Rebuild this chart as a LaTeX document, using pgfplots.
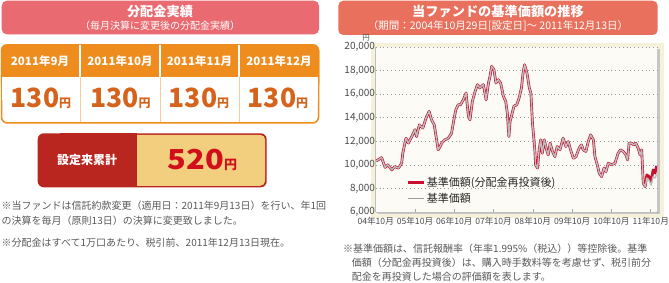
\documentclass[border=0pt]{standalone}
\usepackage{fontspec}
\setmainfont{Noto Sans CJK JP}
\usepackage{pgfplots}
\usepackage{pgfplotstable}
\pgfplotsset{compat=1.18}
\definecolor{hdrpink}{HTML}{E96A70}
\definecolor{hdrcoral}{HTML}{E8705C}
\definecolor{monthor}{HTML}{EE8C1E}
\definecolor{valor}{HTML}{D5631C}
\definecolor{cumred}{HTML}{B9261F}
\definecolor{cumyel}{HTML}{F2CF7F}
\definecolor{numred}{HTML}{D10F1A}
\definecolor{plotbg}{HTML}{FCFBF6}
\definecolor{beige}{HTML}{F6F1DB}
\definecolor{notegray}{HTML}{595959}
\definecolor{redline}{HTML}{C8102E}
\definecolor{grayline}{HTML}{BDBDBD}
\definecolor{ticktext}{HTML}{4A4A4A}

\pgfplotstableread{
t v
2004.84 10340
2004.98 10630
2005.07 9800
2005.14 10020
2005.24 9600
2005.32 9870
2005.41 9740
2005.49 10160
2005.52 11000
2005.60 12280
2005.66 11860
2005.75 12420
2005.83 13000
2005.87 12420
2005.94 13410
2006.03 13130
2006.11 13980
2006.19 14550
2006.25 13840
2006.32 13410
2006.38 12140
2006.42 11290
2006.47 11570
2006.51 11860
2006.59 12140
2006.68 12280
2006.76 12700
2006.82 13840
2006.87 14690
2006.93 15110
2006.99 15110
2007.06 15530
2007.13 16100
2007.19 14120
2007.23 13840
2007.29 15390
2007.36 16240
2007.42 16810
2007.48 16530
2007.57 16810
2007.64 15530
2007.70 16950
2007.74 17520
2007.78 18360
2007.84 18080
2007.89 16950
2007.95 17230
2008.01 16950
2008.08 15820
2008.14 15390
2008.18 14400
2008.22 12420
2008.25 13690
2008.29 14200
2008.35 15000
2008.42 15100
2008.48 15680
2008.54 16530
2008.58 17800
2008.62 18500
2008.68 17800
2008.74 16530
2008.78 16100
2008.82 13560
2008.85 12420
2008.88 11290
2008.90 10020
2008.95 9740
2008.99 11290
2009.03 12140
2009.07 11000
2009.12 12140
2009.18 11290
2009.22 10860
2009.27 11860
2009.33 11150
2009.39 10720
2009.45 11570
2009.52 11290
2009.60 12280
2009.67 11570
2009.73 11990
2009.79 11290
2009.86 10580
2009.93 10720
2009.99 11290
2010.03 11570
2010.07 11710
2010.11 11290
2010.18 11150
2010.24 11990
2010.30 12560
2010.37 12140
2010.41 10720
2010.47 10020
2010.52 9310
2010.58 9020
2010.64 9740
2010.69 9450
2010.75 10160
2010.83 10020
2010.92 10160
2011.00 11000
2011.06 11290
2011.13 11150
2011.20 10860
2011.24 10440
2011.28 11860
2011.34 11860
2011.40 11710
2011.45 11860
2011.51 11430
2011.56 10860
2011.60 11290
2011.64 8460
2011.69 8170
2011.73 9170
2011.79 9020
2011.84 8600
2011.89 9600
2011.94 9310
2011.98 9930
}\redtbl

\pgfplotstableread{
t v
2004.84 10340
2004.98 10630
2005.07 9800
2005.14 10020
2005.24 9600
2005.32 9870
2005.41 9740
2005.49 10160
2005.52 11000
2005.60 12280
2005.66 11860
2005.75 12420
2005.83 13000
2005.87 12420
2005.94 13410
2006.03 13130
2006.11 13980
2006.19 14550
2006.25 13840
2006.32 13410
2006.38 12140
2006.42 11290
2006.47 11570
2006.51 11860
2006.59 12140
2006.68 12280
2006.76 12700
2006.82 13840
2006.87 14690
2006.93 15110
2006.99 15110
2007.06 15530
2007.13 16100
2007.19 14120
2007.23 13840
2007.29 15390
2007.36 16240
2007.42 16810
2007.48 16530
2007.57 16810
2007.64 15530
2007.70 16950
2007.74 17520
2007.78 18360
2007.84 18080
2007.89 16950
2007.95 17230
2008.01 16950
2008.08 15820
2008.14 15390
2008.18 14400
2008.22 12420
2008.25 13690
2008.29 14200
2008.35 15000
2008.42 15100
2008.48 15680
2008.54 16530
2008.58 17800
2008.62 18500
2008.68 17800
2008.74 16530
2008.78 16100
2008.82 13560
2008.85 12420
2008.88 11290
2008.90 10020
2008.95 9740
2008.99 11290
2009.03 12140
2009.07 11000
2009.12 12140
2009.18 11290
2009.22 10860
2009.27 11860
2009.33 11150
2009.39 10720
2009.45 11570
2009.52 11290
2009.60 12280
2009.67 11570
2009.73 11990
2009.79 11290
2009.86 10580
2009.93 10720
2009.99 11290
2010.03 11570
2010.07 11710
2010.11 11290
2010.18 11150
2010.24 11990
2010.30 12560
2010.37 12140
2010.41 10720
2010.47 10020
2010.52 9310
2010.58 9020
2010.64 9740
2010.69 9450
2010.75 10160
2010.83 10020
2010.92 10160
2011.00 11000
2011.06 11290
2011.13 11150
2011.20 10860
2011.24 10440
2011.28 11860
2011.34 11860
2011.40 11710
2011.45 11860
2011.51 11430
2011.56 10860
2011.60 11290
2011.64 8460
2011.69 8170
2011.73 8900
2011.79 8700
2011.84 8300
2011.89 9000
2011.94 8900
2011.98 9200
}\graytbl

\begin{document}
\begin{tikzpicture}
\useasboundingbox (0pt,0pt) rectangle (669pt,-283pt);

% ---------- left panel ----------
\fill[hdrpink, rounded corners=5pt] (1.7pt,-0.7pt) rectangle (319pt,-34.3pt);
\node[text=white, font=\fontsize{13.2}{14}\selectfont\bfseries] at (160pt,-12pt) {分配金実績};
\node[text=white, font=\fontsize{10}{11}\selectfont] at (160pt,-26.2pt) {（毎月決算に変更後の分配金実績）};

\filldraw[fill=white, draw=monthor, line width=1.5pt, rounded corners=6pt] (1.5pt,-45pt) rectangle (318.5pt,-123pt);
\fill[monthor, rounded corners=6pt] (0.75pt,-44.25pt) rectangle (319.25pt,-90pt);
\fill[white] (2.25pt,-77pt) rectangle (317.75pt,-100pt);
\foreach \xx in {80,160,239}{
  \draw[white, line width=1.2pt] (\xx pt,-45pt) -- (\xx pt,-77pt);
  \draw[monthor!45, line width=0.8pt] (\xx pt,-77pt) -- (\xx pt,-122pt);
}
\foreach \xx/\mm in {40/2011年9月,120/2011年10月,199.5/2011年11月,279/2011年12月}{
  \node[text=white, font=\fontsize{11.5}{12}\selectfont\bfseries] at (\xx pt,-61.5pt) {\mm};
}
\foreach \xx in {41,120.5,199,278}{
  \node[anchor=base, text=valor, inner sep=0pt] at (\xx pt,-107.5pt) {{\fontsize{26.5}{28}\selectfont\bfseries 130}{\fontsize{12}{13}\selectfont\bfseries 円}};
}

\fill[cumred, rounded corners=6pt] (37.7pt,-133.3pt) rectangle (266.7pt,-187.3pt);
\fill[cumyel, rounded corners=5pt] (120pt,-134.8pt) rectangle (265.2pt,-185.8pt);
\fill[cumred] (60pt,-133.3pt) rectangle (137pt,-187.3pt);
\node[text=white, font=\fontsize{12}{13}\selectfont\bfseries] at (87pt,-160pt) {設定来累計};
\node[anchor=base, text=numred, inner sep=0pt] at (202.5pt,-170pt) {\scalebox{1.12}[1]{\fontsize{27.5}{29}\selectfont\bfseries 520}{\fontsize{13}{14}\selectfont\bfseries 円}};

\begin{scope}[every node/.style={anchor=base west, inner sep=0pt, text=notegray, font=\fontsize{10}{11}\selectfont}]
\node at (1.5pt,-210pt) {※当ファンドは信託約款変更（適用日：2011年9月13日）を行い、年1回};
\node at (1.5pt,-225pt) {の決算を毎月（原則13日）の決算に変更致しました。};
\node at (1.5pt,-246pt) {※分配金はすべて1万口あたり、税引前、2011年12月13日現在。};
\end{scope}

% ---------- right panel ----------
\fill[hdrcoral, rounded corners=5pt] (338.3pt,-0.7pt) rectangle (657.7pt,-35pt);
\node[text=white, font=\fontsize{13.2}{14}\selectfont\bfseries] at (498pt,-12pt) {当ファンドの基準価額の推移};
\node[text=white, font=\fontsize{10.5}{11}\selectfont] at (498pt,-25.8pt) {（期間：2004年10月29日[設定日]～ 2011年12月13日）};

\fill[beige] (371pt,-43pt) rectangle (664pt,-218pt);
\fill[gray!45] (377.5pt,-49pt) rectangle (659.5pt,-214.5pt);
\node[text=ticktext, font=\fontsize{7.5}{8}\selectfont, inner sep=0.5pt] at (366pt,-37.5pt) {円};

\begin{axis}[
  at={(375.7pt,-212.3pt)}, anchor=south west,
  width=281.3pt, height=165.3pt, scale only axis,
  xmin=2004.83, xmax=2011.99, ymin=6000, ymax=20000,
  ytick={6000,8000,10000,12000,14000,16000,18000,20000},
  xtick={2004.83,2005.83,2006.83,2007.83,2008.83,2009.83,2010.83,2011.83},
  xticklabels={04年10月,05年10月,06年10月,07年10月,08年10月,09年10月,10年10月,11年10月},
  scaled y ticks=false,
  /pgf/number format/.cd, 1000 sep={,}, assume math mode=true, /pgfplots/.cd,
  axis background/.style={fill=plotbg},
  axis x line*=bottom, axis y line*=left,
  axis line style={draw=gray!50, line width=0.6pt},
  ymajorgrids, grid style={draw=gray!80, line width=0.7pt, dash pattern=on 0.8pt off 3pt},
  ytick style={draw=none},
  xtick style={draw=gray!70, line width=0.6pt},
  tick align=inside, major tick length=3pt,
  x tick label style={font=\fontsize{8.6}{10}\selectfont, text=ticktext, yshift=-1pt},
  y tick label style={font=\fontsize{10}{11}\selectfont, text=ticktext, xshift=1pt, inner sep=1.5pt},
  legend style={at={(axis description cs:0.11,0.045)}, anchor=south west, draw=none, fill=none,
    font=\fontsize{11}{12}\selectfont, text=black!85, inner sep=0pt, row sep=3pt,
    nodes={inner sep=1pt}},
  legend cell align=left,
  clip=true,
]
\addplot[redline, line width=2.7pt, line join=round,
  legend image code/.code={\draw[redline, line width=3pt] (0pt,0pt) -- (16pt,0pt);}]
  table[x=t, y=v] {\redtbl};
\addlegendentry{基準価額(分配金再投資後)}
\addplot[grayline, line width=1.4pt, line join=round,
  legend image code/.code={\draw[gray!75, line width=1.4pt] (0pt,0pt) -- (16pt,0pt);}]
  table[x=t, y=v] {\graytbl};
\addlegendentry{基準価額}
\end{axis}

\begin{scope}[every node/.style={anchor=base west, inner sep=0pt, text=notegray, font=\fontsize{10}{11}\selectfont}]
\node at (343pt,-252pt) {※基準価額は、信託報酬率（年率1.995\%（税込））等控除後。基準};
\node at (351.7pt,-266pt) {価額（分配金再投資後）は、購入時手数料等を考慮せず、税引前分};
\node at (351.7pt,-280pt) {配金を再投資した場合の評価額を表します。};
\end{scope}
\end{tikzpicture}
\end{document}
